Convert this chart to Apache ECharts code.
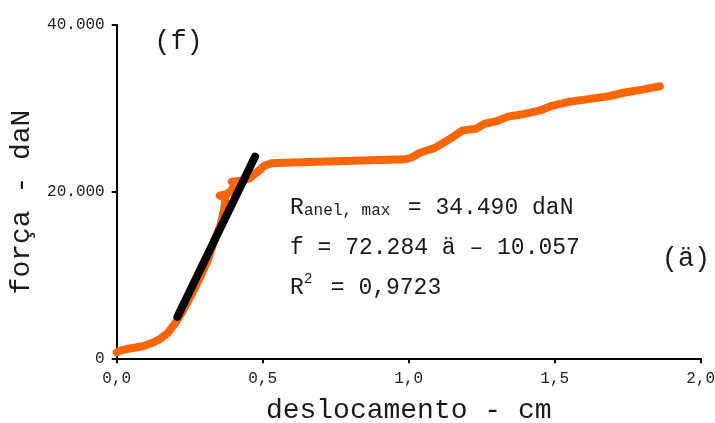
<!DOCTYPE html>
<html>
<head>
<meta charset="utf-8">
<style>
  html, body { margin: 0; padding: 0; background: #fff; }
  #chart { width: 715px; height: 423px; }
</style>
<script src="https://cdn.jsdelivr.net/npm/echarts@6/dist/echarts.min.js"></script>
</head>
<body>
<div id="chart"></div>
<script>
// Load–displacement record of the ring test (deslocamento in cm, força in daN)
const deslocamento = [
  0.000, 0.010, 0.040, 0.090, 0.125, 0.150, 0.175, 0.200, 0.225, 0.250,
  0.280, 0.310, 0.335, 0.355, 0.368, 0.372, 0.353, 0.375, 0.392, 0.405,
  0.394, 0.425, 0.455, 0.480, 0.505, 0.530, 0.600, 0.750, 0.900, 0.990,
  1.010, 1.040, 1.090, 1.135, 1.185, 1.230, 1.260, 1.305, 1.340, 1.385,
  1.450, 1.490, 1.545, 1.615, 1.685, 1.740, 1.800, 1.860
];
const forca = [
  700, 900, 1150, 1450, 1900, 2350, 3050, 4200, 5600, 7200,
  9300, 11600, 14200, 15900, 17900, 19200, 19550, 19650, 20100, 20900,
  21200, 21300, 21600, 22300, 23100, 23400, 23500, 23650, 23800, 23900,
  24100, 24700, 25250, 26200, 27350, 27550, 28150, 28500, 29000, 29250,
  29750, 30300, 30750, 31100, 31450, 31900, 32250, 32650
];

// Linear fit of the elastic stretch: f = 72.284 ä − 10.057 (thousands of daN)
const fitSlope = 72284;
const fitIntercept = -10057;
const fitRange = [0.208, 0.474];

// Axis ticks
const xTickValues = [0, 0.5, 1.0, 1.5, 2.0];
const xTickLabels = ['0,0', '0,5', '1,0', '1,5', '2,0'];
const yTickValues = [0, 20000, 40000];
const yTickLabels = ['0', '20.000', '40.000'];

const curve = deslocamento.map((x, i) => [x, forca[i]]);
const fitLine = fitRange.map(x => [x, fitSlope * x + fitIntercept]);

const MONO = '"Liberation Mono", "Courier New", monospace';
const INK = '#1a1a1a';

function tickText(values, labels) {
  return function (v) {
    for (let i = 0; i < values.length; i++) {
      if (Math.abs(values[i] - v) < 1e-9) return labels[i];
    }
    return '';
  };
}

const chart = echarts.init(document.getElementById('chart'), null, { renderer: 'canvas' });

chart.setOption({
  animation: false,
  backgroundColor: '#ffffff',
  grid: {
    left: 116.7, right: 14.3, top: 25, bottom: 64.7,
    containLabel: false,
    outerBoundsMode: 'none'
  },
  xAxis: {
    type: 'value',
    min: 0, max: 2.0, interval: 0.5,
    name: 'deslocamento - cm',
    nameLocation: 'middle',
    nameGap: 52,
    nameTextStyle: { fontFamily: MONO, fontSize: 28, color: INK, verticalAlign: 'middle' },
    axisLine: { show: true, onZero: false, lineStyle: { color: '#000', width: 2 } },
    axisTick: { show: true, inside: false, length: 5, lineStyle: { color: '#000', width: 2 } },
    axisLabel: { margin: 12, fontFamily: MONO, fontSize: 16, color: '#222', formatter: tickText(xTickValues, xTickLabels) },
    splitLine: { show: false }
  },
  yAxis: {
    type: 'value',
    min: 0, max: 40000, interval: 20000,
    axisLine: { show: true, onZero: false, lineStyle: { color: '#000', width: 2 } },
    axisTick: { show: true, inside: false, length: 5, lineStyle: { color: '#000', width: 2 } },
    axisLabel: { margin: 12, fontFamily: MONO, fontSize: 16, color: '#222', formatter: tickText(yTickValues, yTickLabels) },
    splitLine: { show: false }
  },
  series: [
    {
      type: 'line',
      data: curve,
      showSymbol: false,
      smooth: false,
      lineStyle: { color: '#FF6600', width: 8, cap: 'round', join: 'round' },
      z: 2
    },
    {
      type: 'line',
      data: fitLine,
      showSymbol: false,
      lineStyle: { color: '#000000', width: 8, cap: 'round' },
      z: 3
    }
  ],
  graphic: [
    {
      type: 'text', x: 22, y: 202, rotation: Math.PI / 2,
      style: { text: 'força - daN', font: '28px ' + MONO, fill: INK, align: 'center', verticalAlign: 'middle' }
    },
    {
      type: 'text', x: 178.5, y: 42,
      style: { text: '(f)', font: '27px ' + MONO, fill: INK, align: 'center', verticalAlign: 'middle' }
    },
    {
      type: 'text', x: 686, y: 258.5,
      style: { text: '(ä)', font: '27px ' + MONO, fill: INK, align: 'center', verticalAlign: 'middle' }
    },
    // R_anel,max line
    {
      type: 'text', x: 290, y: 208,
      style: { text: 'R', font: '23px ' + MONO, fill: INK, align: 'left', verticalAlign: 'middle' }
    },
    {
      type: 'text', x: 304, y: 210.5,
      style: { text: 'anel, max', font: '16px ' + MONO, fill: INK, align: 'left', verticalAlign: 'middle' }
    },
    {
      type: 'text', x: 394, y: 208,
      style: { text: ' = 34.490 daN', font: '23px ' + MONO, fill: INK, align: 'left', verticalAlign: 'middle' }
    },
    // fitted equation
    {
      type: 'text', x: 290, y: 248,
      style: { text: 'f = 72.284 ä – 10.057', font: '23px ' + MONO, fill: INK, align: 'left', verticalAlign: 'middle' }
    },
    // coefficient of determination
    {
      type: 'text', x: 290, y: 288,
      style: { text: 'R', font: '23px ' + MONO, fill: INK, align: 'left', verticalAlign: 'middle' }
    },
    {
      type: 'text', x: 304, y: 279,
      style: { text: '2', font: '14px ' + MONO, fill: INK, align: 'left', verticalAlign: 'middle' }
    },
    {
      type: 'text', x: 317, y: 288,
      style: { text: ' = 0,9723', font: '23px ' + MONO, fill: INK, align: 'left', verticalAlign: 'middle' }
    }
  ]
});
</script>
</body>
</html>
